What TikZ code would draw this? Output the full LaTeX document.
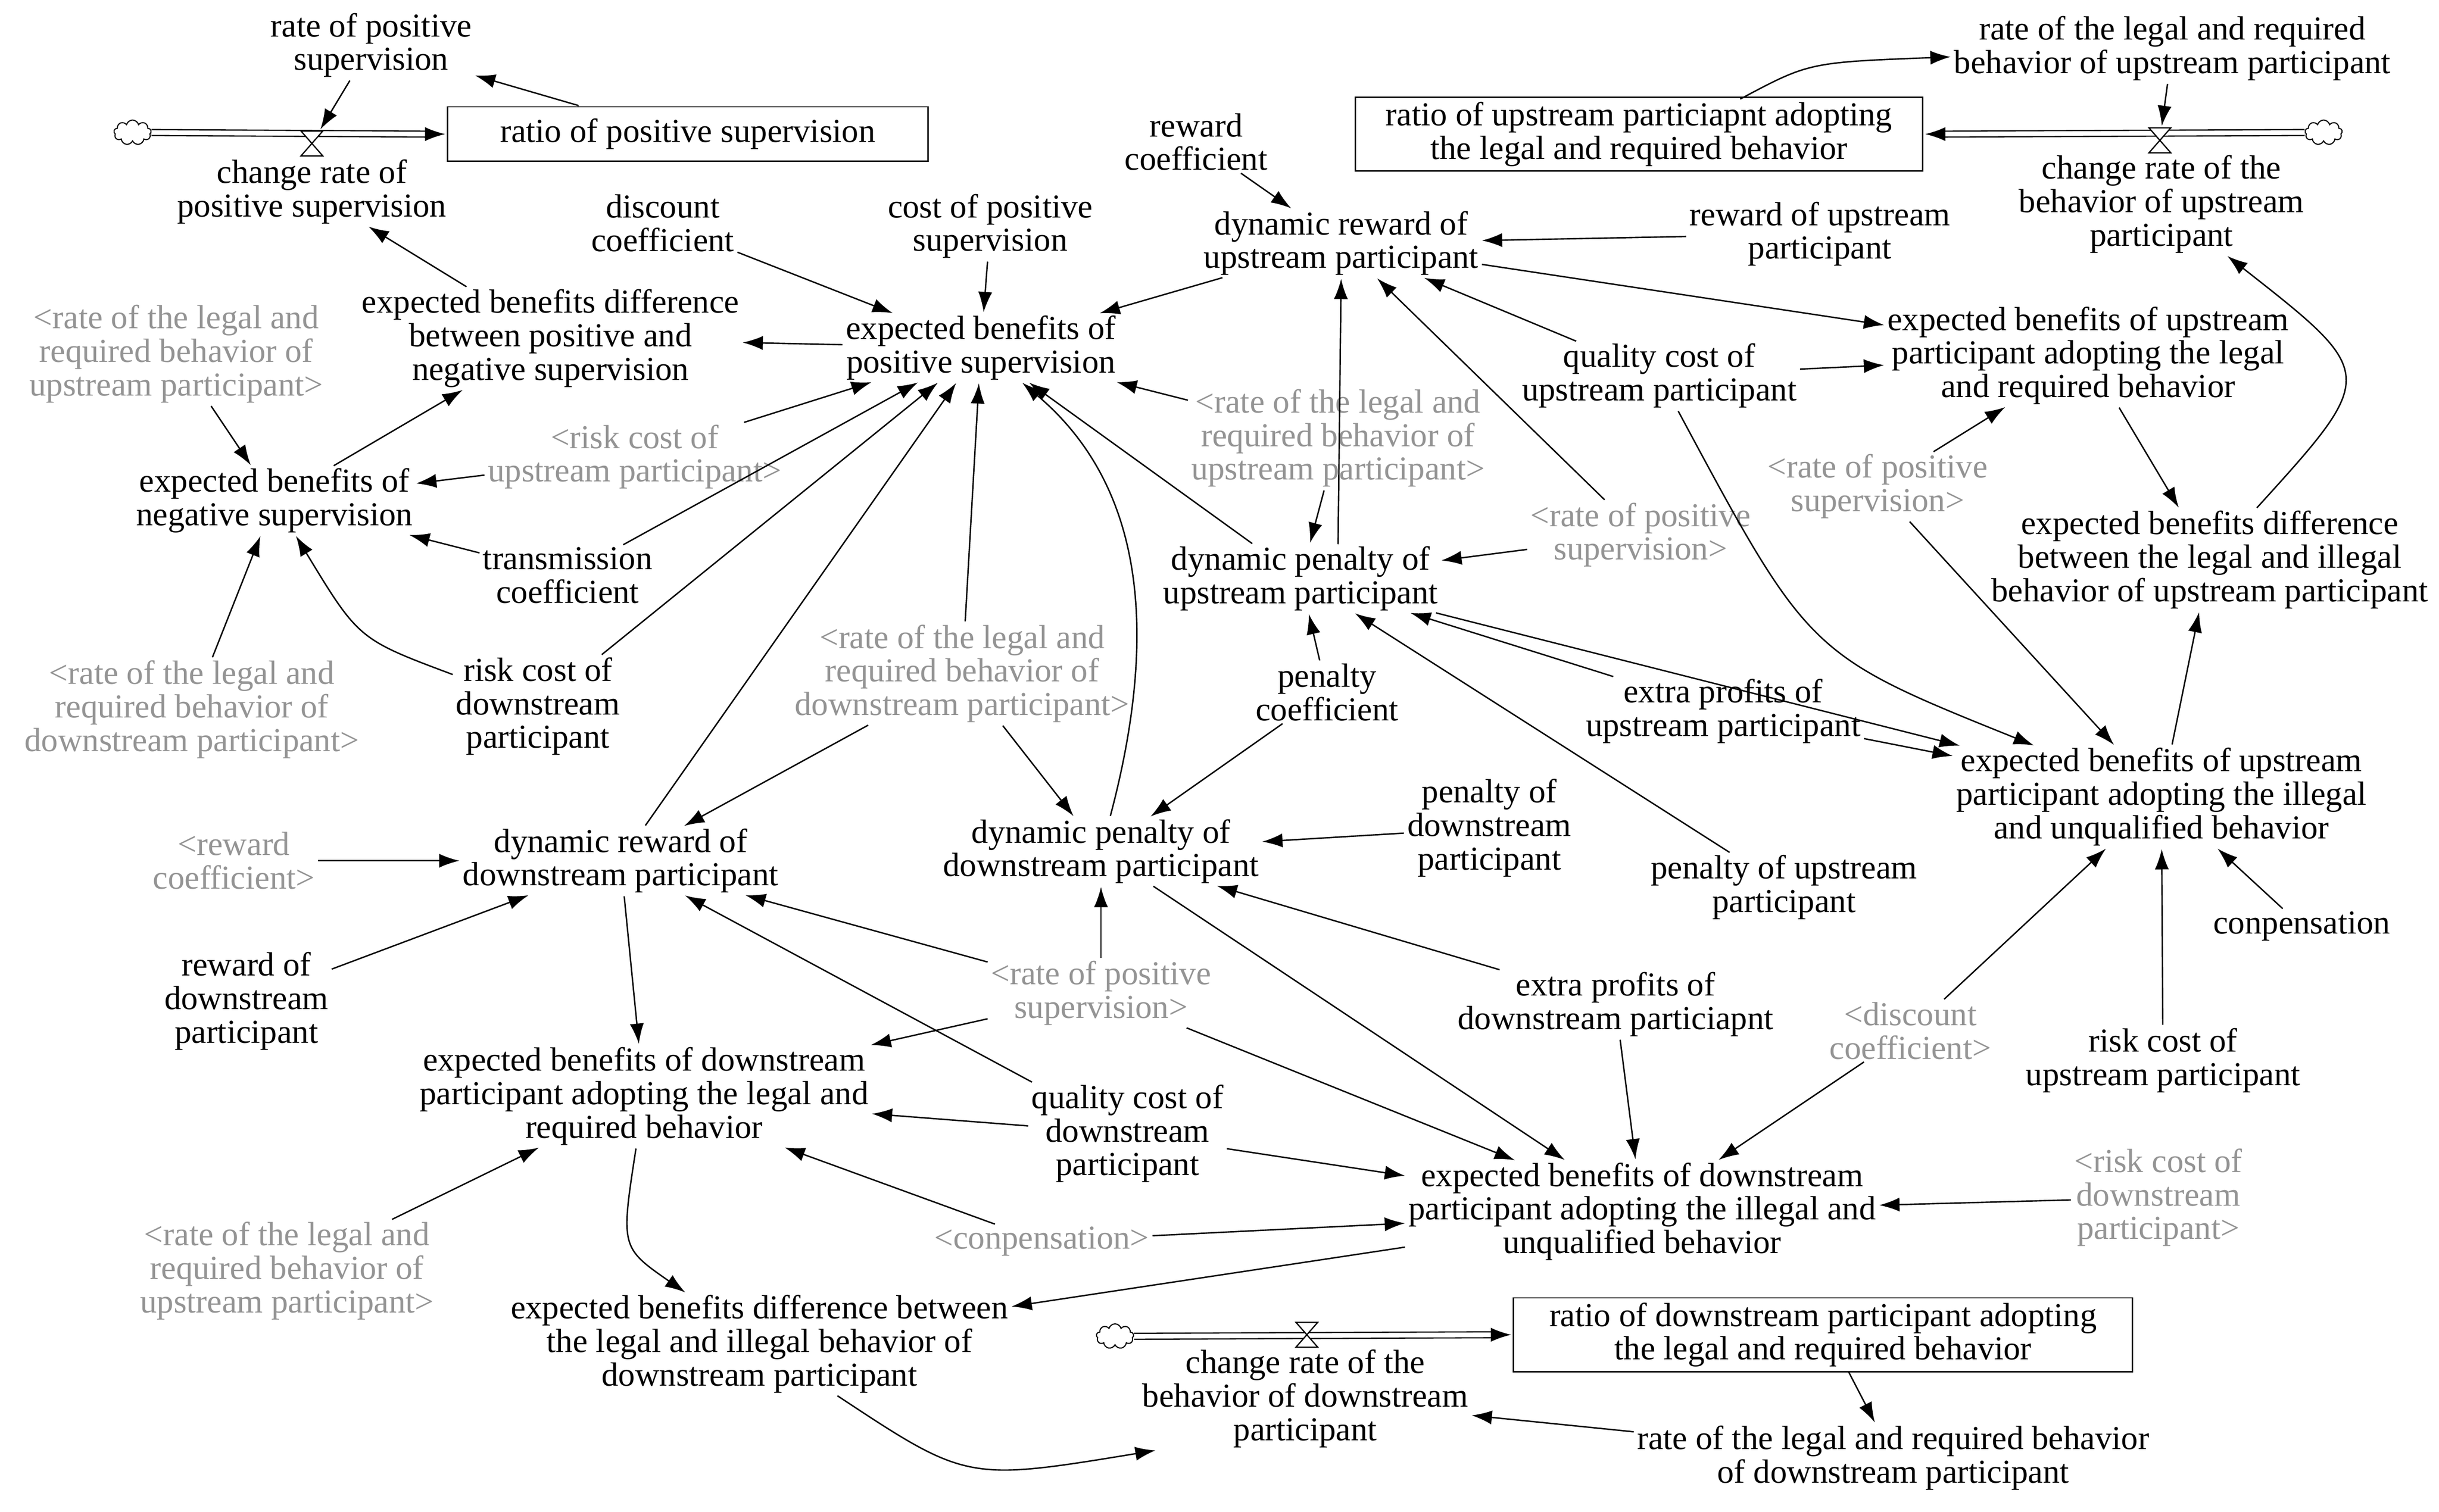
\documentclass[tikz,border=0pt]{standalone}
\usepackage{fontspec}
\setmainfont{Liberation Serif}
\usetikzlibrary{arrows.meta,shapes.symbols,calc}
\begin{document}
\begin{tikzpicture}[x=1pt,y=-1pt,
 t/.style={align=center,inner sep=1pt,font=\fontsize{21.5}{21.5}\selectfont},
 g/.style={t,text=black!42},
 box/.style={t,draw,line width=0.9pt,inner xsep=18pt,inner ysep=3pt},
 arr/.style={-{Latex[length=13pt,width=9pt]},line width=0.9pt,shorten >=1pt,shorten <=1pt},
 pipe/.style={double,double distance=3pt,line width=0.8pt},
 cl/.style={cloud,draw,cloud puffs=9,minimum width=24pt,minimum height=16pt,inner sep=0pt,line width=0.7pt},
 vv/.style={minimum size=16pt,inner sep=0pt}]
\useasboundingbox (0,0) rectangle (1564,969.5);
\newcommand\myvalve[1]{\draw[fill=white,line width=0.8pt] ($(#1)+(-7,-8)$) -- ($(#1)+(7,-8)$) -- ($(#1)+(-7,8)$) -- ($(#1)+(7,8)$) -- cycle;}
% upper-left stock
\node[t] (rps) at (238,29) {rate of positive\\supervision};
\node[t] (crps) at (200,123) {change rate of\\positive supervision};
\node[box,minimum width=308pt,minimum height=35pt] (rpsbox) at (441,86) {ratio of positive supervision};
\node[cl] (c1) at (85,85) {};
\node[vv] (v1) at (200,92) {};
\draw[pipe] (c1.east) -- ($(rpsbox.west)+(-12,0)$);
\draw[arr] ($(rpsbox.west)+(-14,0)$) -- (rpsbox.west);
\myvalve{v1}
% upper-right stock
\node[t] (rlu) at (1393,31) {rate of the legal and required\\behavior of upstream participant};
\node[box,minimum width=364pt] (rubox) at (1051,86) {ratio of upstream particiapnt adopting\\the legal and required behavior};
\node[cl] (c2) at (1490,85) {};
\node[vv] (v2) at (1385,90) {};
\node[t] (crbu) at (1386,131) {change rate of the\\behavior of upstream\\participant};
\draw[pipe] (c2.west) -- ($(rubox.east)+(12,0)$);
\draw[arr] ($(rubox.east)+(14,0)$) -- (rubox.east);
\myvalve{v2}
% bottom stock
\node[box,minimum width=397pt] (rdbox) at (1169,856) {ratio of downstream participant adopting\\the legal and required behavior};
\node[cl] (c3) at (715,857) {};
\node[vv] (v3) at (838,856) {};
\node[t] (crbd) at (837,897) {change rate of the\\behavior of downstream\\participant};
\node[t] (rld) at (1214,935) {rate of the legal and required behavior\\of downstream participant};
\draw[pipe] (c3.east) -- ($(rdbox.west)+(-12,0)$);
\draw[arr] ($(rdbox.west)+(-14,0)$) -- (rdbox.west);
\myvalve{v3}
% other nodes
\node[t] (disc) at (425,143) {discount\\coefficient};
\node[t] (cost) at (635,145) {cost of positive\\supervision};
\node[t] (ebpn) at (353,217) {expected benefits difference\\between positive and\\negative supervision};
\node[t] (ebps) at (629,223) {expected benefits of\\positive supervision};
\node[g] (g1) at (113,227) {<rate of the legal and\\required behavior of\\upstream participant>};
\node[t] (ebns) at (176,321) {expected benefits of\\negative supervision};
\node[g] (grisk) at (407,293) {<risk cost of\\upstream participant>};
\node[t] (trans) at (364,369) {transmission\\coefficient};
\node[t] (riskd) at (345,453) {risk cost of\\downstream\\participant};
\node[g] (g2) at (123,455) {<rate of the legal and\\required behavior of\\downstream participant>};
\node[t] (rcoef) at (767,91) {reward\\coefficient};
\node[t] (dru) at (860,156) {dynamic reward of\\upstream participant};
\node[t] (rewup) at (1167,150) {reward of upstream\\participant};
\node[t] (qcu) at (1064,241) {quality cost of\\upstream participant};
\node[t] (ebul) at (1339,228) {expected benefits of upstream\\participant adopting the legal\\and required behavior};
\node[g] (g3) at (858,281) {<rate of the legal and\\required behavior of\\upstream participant>};
\node[g] (gps1) at (1204,312) {<rate of positive\\supervision>};
\node[g] (gps2) at (1052,343) {<rate of positive\\supervision>};
\node[t] (dpu) at (834,371) {dynamic penalty of\\upstream participant};
\node[t] (ebdu) at (1417,359) {expected benefits difference\\between the legal and illegal\\behavior of upstream participant};
\node[t] (pcoef) at (851,444) {penalty\\coefficient};
\node[t] (extu) at (1105,456) {extra profits of\\upstream participant};
\node[t] (ebui) at (1386,511) {expected benefits of upstream\\participant adopting the illegal\\and unqualified behavior};
\node[g] (g4) at (617,432) {<rate of the legal and\\required behavior of\\downstream participant>};
\node[t] (penu) at (1144,569) {penalty of upstream\\participant};
\node[t] (pend) at (955,531) {penalty of\\downstream\\participant};
\node[t] (dpd) at (706,546) {dynamic penalty of\\downstream participant};
\node[t] (drd) at (398,552) {dynamic reward of\\downstream participant};
\node[g] (grew) at (150,552) {<reward\\coefficient>};
\node[t] (rewd) at (158,642) {reward of\\downstream\\participant};
\node[g] (gps3) at (706,637) {<rate of positive\\supervision>};
\node[t] (comp) at (1476,594) {conpensation};
\node[t] (extd) at (1036,644) {extra profits of\\downstream particiapnt};
\node[g] (gdisc) at (1225,661) {<discount\\coefficient>};
\node[t] (risku) at (1387,680) {risk cost of\\upstream participant};
\node[t] (ebdl) at (413,703) {expected benefits of downstream\\participant adopting the legal and\\required behavior};
\node[t] (qcd) at (723,727) {quality cost of\\downstream\\participant};
\node[t] (ebdi) at (1053,777) {expected benefits of downstream\\participant adopting the illegal and\\unqualified behavior};
\node[g] (griskd) at (1384,768) {<risk cost of\\downstream\\participant>};
\node[g] (gcomp) at (668,796) {<conpensation>};
\node[g] (g5) at (184,815) {<rate of the legal and\\required behavior of\\upstream participant>};
\node[t] (ebdd) at (487,862) {expected benefits difference between\\the legal and illegal behavior of\\downstream participant};
\coordinate (crbdin) at (742,930);
\coordinate (a1) at (372,68);
\coordinate (a2) at (858,350);
\coordinate (a3) at (1115,64);
\coordinate (a4) at (1185,879);
% connectors
\draw[arr] (a1) -- (rps);
\draw[arr] (rps) -- (v1);
\draw[arr] (ebpn) -- (crps);
\draw[arr] (disc) -- (ebps);
\draw[arr] (cost) -- (ebps);
\draw[arr] (ebps) -- (ebpn);
\draw[arr] (g1) -- (ebns);
\draw[arr] (ebns) -- (ebpn);
\draw[arr] (grisk) -- (ebns);
\draw[arr] (grisk) -- (ebps);
\draw[arr] (trans) -- (ebns);
\draw[arr] (trans) -- (ebps);
\draw[arr] (riskd) .. controls (230,410) .. (ebns);
\draw[arr] (riskd) -- (ebps);
\draw[arr] (g2) -- (ebns);
\draw[arr] (drd) -- (ebps);
\draw[arr] (g4) -- (ebps);
\draw[arr] (dpd) .. controls (750,380) and (720,300) .. (ebps);
\draw[arr] (dpu) -- (ebps);
\draw[arr] (g3) -- (ebps);
\draw[arr] (dru) -- (ebps);
\draw[arr] (rcoef) -- (dru);
\draw[arr] (rewup) -- (dru);
\draw[arr] (a2) -- (dru.south);
\draw[arr] (gps2) -- (dru);
\draw[arr] (qcu) -- (dru);
\draw[arr] (dru) -- (ebul);
\draw[arr] (qcu) -- (ebul);
\draw[arr] (qcu) .. controls (1160,420) .. (ebui);
\draw[arr] (gps1) -- (ebul);
\draw[arr] (gps1) -- (ebui);
\draw[arr] (ebul) -- (ebdu);
\draw[arr] (ebdu) .. controls (1525,240) .. (crbu);
\draw[arr] (ebui) -- (ebdu);
\draw[arr] (rlu) -- (v2);
\draw[arr] (a3) .. controls (1160,40) .. (rlu);
\draw[arr] (g3) -- (dpu);
\draw[arr] (gps2) -- (dpu);
\draw[arr] (pcoef) -- (dpu);
\draw[arr] (extu) -- (dpu);
\draw[arr] (penu) -- (dpu);
\draw[arr] (dpu) -- (ebui);
\draw[arr] (extu) -- (ebui);
\draw[arr] (comp) -- (ebui);
\draw[arr] (risku) -- (ebui);
\draw[arr] (gdisc) -- (ebui);
\draw[arr] (gdisc) -- (ebdi);
\draw[arr] (pcoef) -- (dpd);
\draw[arr] (pend) -- (dpd);
\draw[arr] (g4) -- (dpd);
\draw[arr] (g4) -- (drd);
\draw[arr] (extd) -- (dpd);
\draw[arr] (gps3) -- (dpd);
\draw[arr] (gps3) -- (drd);
\draw[arr] (gps3) -- (ebdl);
\draw[arr] (gps3) -- (ebdi);
\draw[arr] (qcd) -- (drd);
\draw[arr] (qcd) -- (ebdl);
\draw[arr] (qcd) -- (ebdi);
\draw[arr] (dpd) -- (ebdi);
\draw[arr] (extd) -- (ebdi);
\draw[arr] (griskd) -- (ebdi);
\draw[arr] (gcomp) -- (ebdl);
\draw[arr] (gcomp) -- (ebdi);
\draw[arr] (grew) -- (drd);
\draw[arr] (rewd) -- (drd);
\draw[arr] (drd) -- (ebdl);
\draw[arr] (g5) -- (ebdl);
\draw[arr] (ebdl) .. controls (398,800) .. (ebdd);
\draw[arr] (ebdi) -- (ebdd);
\draw[arr] (ebdd) .. controls (620,950) .. (crbdin);
\draw[arr] (rld) -- (crbd);
\draw[arr] (a4) -- (rld);
\end{tikzpicture}
\end{document}
